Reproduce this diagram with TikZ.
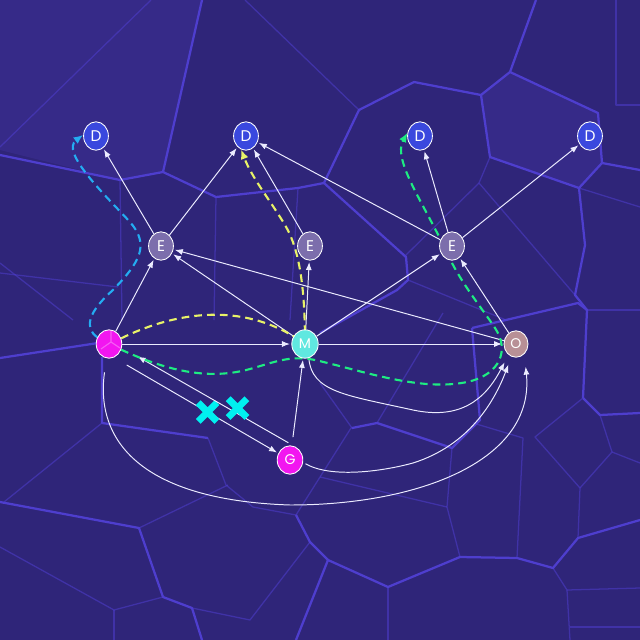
\documentclass[tikz,border=0pt]{standalone}
\usepackage{fontspec}
\newfontfamily\nodefont{Poppins}
\usetikzlibrary{arrows.meta,shapes.geometric,shapes.misc}
\definecolor{bgblue}{RGB}{47,37,121}
\definecolor{cellshade}{RGB}{54,42,136}
\definecolor{cellline}{RGB}{78,62,206}
\definecolor{dblue}{RGB}{58,72,222}
\definecolor{egray}{RGB}{124,110,172}
\definecolor{ypink}{RGB}{242,22,240}
\definecolor{mcyan}{RGB}{96,232,224}
\definecolor{orose}{RGB}{184,144,150}
\definecolor{walkblue}{RGB}{36,172,242}
\definecolor{walkyellow}{RGB}{232,242,104}
\definecolor{walkgreen}{RGB}{30,236,130}
\definecolor{blockcyan}{RGB}{0,240,240}
\pgfdeclarelayer{back}
\pgfdeclarelayer{wires}
\pgfsetlayers{back,wires,main}
\tikzset{
	vnode/.style={ellipse, draw=white!75, line width=0.6pt, inner sep=0pt, minimum width=0.62cm, minimum height=0.71cm, text=white, font=\nodefont\fontsize{11}{11}\selectfont},
	dnode/.style={vnode, fill=dblue},
	enode/.style={vnode, fill=egray},
	pnode/.style={vnode, fill=ypink, minimum width=0.64cm},
	link/.style={draw=white!92!blue, line width=0.7pt, -{Latex[length=2mm,width=1.5mm]}, shorten >=1pt},
	walk/.style={dash pattern=on 5.5pt off 3.6pt, line width=1.5pt, -{Latex[length=2.4mm,width=2mm]}},
	cellbold/.style={draw=cellline, line width=1.6pt, line join=round},
	cellthin/.style={draw=cellline, line width=0.9pt, opacity=0.55, line join=round},
	blockmark/.style={cross out, -, shorten >=0pt, shorten <=0pt, draw=blockcyan, line width=4.8pt, minimum size=0.3cm, inner sep=0pt}
}

\begin{document}
\begin{tikzpicture}[x=0.025cm, y=-0.025cm]
			%%%%% START %%%%%
			
			\useasboundingbox (0,0) rectangle (640,640);
			
			\begin{pgfonlayer}{back}
			\fill[bgblue] (0,0) rectangle (640,640);
			\fill[cellshade] (0,0) -- (0,150) -- (120,180) -- (163,172) -- (202,0) -- cycle;
			\fill[cellshade] (481,95) -- (490,157) -- (579,188) -- (602,163) -- (598,113) -- (510,72) -- cycle;
			
			\draw[cellbold] (0,155) -- (120,180) -- (163,172) -- (202,0);
			\draw[cellbold] (163,172) -- (216,197) -- (298,188) -- (324,183);
			\draw[cellbold] (324,183) -- (359,110) -- (414,82) -- (481,95) -- (510,72) -- (536,0);
			\draw[cellbold] (324,183) -- (406,257) -- (408,280) -- (397,290) -- (320,333);
			\draw[cellbold] (481,95) -- (490,157) -- (579,188) -- (602,163) -- (598,113) -- (510,72);
			\draw[cellbold] (602,163) -- (640,170);
			\draw[cellbold] (579,188) -- (585,245) -- (575,295) -- (587,310);
			\draw[cellbold] (472,328) -- (578,303) -- (587,310) -- (583,398);
			\draw[cellbold] (472,328) -- (480,420) -- (452,448) -- (377,423) -- (352,428);
			\draw[cellbold] (0,358) -- (98,343);
			\draw[cellbold] (102,357) -- (102,423) -- (208,438);
			\draw[cellbold] (0,502) -- (139,528) -- (163,597) -- (192,608) -- (202,640);
			\draw[cellbold] (296,640) -- (328,560) -- (388,587) -- (460,557) -- (517,558) -- (553,568) -- (578,538) -- (640,520);
			\draw[cellbold] (296,515) -- (310,542) -- (328,560);
			\draw[cellbold] (583,398) -- (600,415) -- (640,413);
			
			\draw[cellthin] (0,147) -- (151,0);
			\draw[cellthin] (245,0) -- (359,110);
			\draw[cellthin] (616,0) -- (616,105) -- (640,105);
			\draw[cellthin] (0,263) -- (73,320);
			\draw[cellthin] (0,273) -- (118,287);
			\draw[cellthin] (120,180) -- (122,320);
			\draw[cellthin] (216,197) -- (214,320);
			\draw[cellthin] (298,188) -- (290,320);
			\draw[cellthin] (490,157) -- (479,183) -- (575,295);
			\draw[cellthin] (479,183) -- (404,257);
			\draw[cellthin] (408,280) -- (506,320);
			\draw[cellthin] (579,188) -- (640,207);
			\draw[cellthin] (4,502) -- (102,423);
			\draw[cellthin] (208,438) -- (226,485) -- (253,507) -- (296,515) -- (351,428) -- (352,428);
			\draw[cellthin] (139,528) -- (228,485);
			\draw[cellthin] (0,547) -- (114,610) -- (163,597);
			\draw[cellthin] (114,610) -- (114,640);
			\draw[cellthin] (192,608) -- (250,620) -- (310,542);
			\draw[cellthin] (352,428) -- (320,383);
			\draw[cellthin] (377,423) -- (443,313);
			\draw[cellthin] (452,448) -- (447,507) -- (460,557);
			\draw[cellthin] (447,507) -- (320,477);
			\draw[cellthin] (388,587) -- (388,640);
			\draw[cellthin] (553,568) -- (567,590) -- (640,588);
			\draw[cellthin] (567,590) -- (570,640);
			\draw[cellthin] (570,627) -- (640,627);
			\draw[cellthin] (578,538) -- (580,488) -- (535,437) -- (583,398);
			\draw[cellthin] (580,488) -- (612,452) -- (600,415);
			\draw[cellthin] (612,452) -- (640,463);
			\draw[cellthin] (473,423) -- (523,438) -- (517,558);
			\draw[cellthin] (587,310) -- (640,310);
			\end{pgfonlayer}
			
			\node[dnode] (D1) at (96,136) {D};
			\node[dnode] (D2) at (246,136) {D};
			\node[dnode] (D3) at (420,136) {D};
			\node[dnode] (D4) at (590,136) {D};
			
			\node[enode] (E1) at (161,246) {E};
			\node[enode] (E2) at (310,246) {E};
			\node[enode] (E3) at (452,246) {E};
			
			\node[pnode] (Y) at (109,344) {};
			\draw[white, opacity=0.3, line width=0.8pt] (111,342) -- (111,331) (111,342) -- (101,349) (111,342) -- (120,348);
			\node[vnode, fill=mcyan, minimum width=0.66cm, font=\nodefont\fontsize{10}{10}\selectfont] (M) at (305,344) {M};
			\node[vnode, fill=orose, minimum width=0.6cm, minimum height=0.66cm, font=\nodefont\fontsize{10}{10}\selectfont] (O) at (516,344) {O};
			\node[pnode, font=\nodefont\fontsize{10}{10}\selectfont] (G) at (290,460) {G};
			
			\begin{pgfonlayer}{wires}
			\draw[link] (E1) -- (D1);
			\draw[link] (E1) -- (D2);
			\draw[link] (E2) -- (D2);
			\draw[link] (E3) -- (D2);
			\draw[link] (E3) -- (D3);
			\draw[link] (E3) -- (D4);
			\draw[link] (Y) -- (E1);
			\draw[link] (M) -- (E1);
			\draw[link] (O) -- (E1);
			\draw[link] (M) -- (E2);
			\draw[link] (M) -- (E3);
			\draw[link] (O) -- (E3);
			\draw[link] (Y) -- (M);
			\draw[link] (M) -- (O);
			\draw[link, shorten <=6pt] (G) -- (M);
			\draw[link, shorten <=10.5pt] (Y.-70) -- node[pos=0.57, blockmark] {} (G.150);
			\draw[link, shorten <=5pt, shorten >=13pt] (G.72) -- node[pos=0.33, yshift=4pt, blockmark] {} (Y.-15);
			
			\draw[link, shorten >=6pt] (M.-75) .. controls (312,392) and (345,395) .. (413,410) .. controls (460,420) and (485,400) .. (O.-125);
			\draw[link, shorten <=2pt, shorten >=6pt] (G.-10) .. controls (330,478) and (380,472) .. (413,463) .. controls (470,445) and (495,400) .. (O.-110);
			\draw[link, shorten <=10pt, shorten >=9pt] (Y.-100) .. controls (95,440) and (140,500) .. (290,505) .. controls (420,505) and (535,460) .. (O.-50);
			
			\draw[walk, walkblue] (Y.150) .. controls (84,328) and (88,312) .. (113,290) .. controls (140,262) and (150,245) .. (130,222) .. controls (105,195) and (60,152) .. (D1.175);
			\draw[walk, walkyellow] (Y.25) .. controls (175,312) and (245,300) .. (M.center) .. controls (305,290) and (300,250) .. (285,225) .. controls (270,200) and (252,178) .. (D2.-110);
			\draw[walk, walkgreen] (Y.-25) .. controls (170,372) and (210,380) .. (250,369) .. controls (275,362) and (290,355) .. (315,360) .. controls (360,370) and (420,392) .. (467,382) .. controls (500,375) and (510,350) .. (495,328) .. controls (482,308) and (462,285) .. (447,253) .. controls (425,205) and (392,160) .. (D3.165);
			\end{pgfonlayer}
			
			%%%%% END %%%%%
\end{tikzpicture}
\end{document}
